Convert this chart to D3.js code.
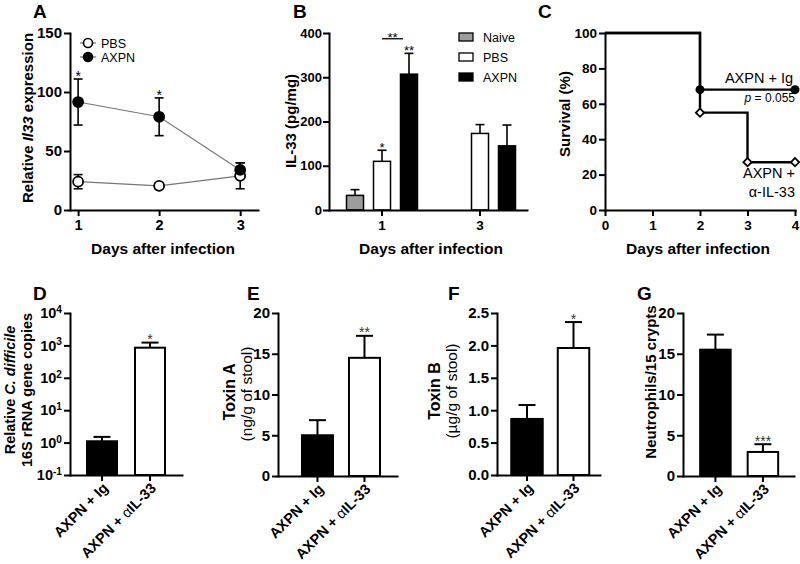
<!DOCTYPE html>
<html><head><meta charset="utf-8">
<script src="https://cdn.jsdelivr.net/npm/d3@7"></script>
<style>
body{margin:0;background:#fff;}
svg{display:block;}
</style></head><body>
<svg id="fig" width="800" height="564"></svg>
<script>
// ================= DATA =================
// Panel A – Relative Il33 expression
const daysA = [1, 2, 3];
const pbsA = [24, 20.5, 29];
const pbsAErr = [6, 2.5, 11];
const axpnA = [91.5, 79, 34];
const axpnAErr = [19.5, 16, 6];
const starsA = ["*", "*", ""];
const yTicksA = [0, 50, 100, 150];

// Panel B – IL-33 (pg/mg)
const daysB = ["1", "3"];
const groupsB = ["Naive", "PBS", "AXPN"];
const naiveB = [33, null];
const naiveBErr = [13, null];
const pbsB = [110, 173];
const pbsBErr = [25, 20];
const axpnB = [307, 145];
const axpnBErr = [47, 47];
const yTicksB = [0, 100, 200, 300, 400];

// Panel C – survival
const daysIg = [0, 2, 4];
const survIg = [100, 68, 68];
const daysAnti = [0, 2, 3, 4];
const survAnti = [100, 55, 27, 27];
const xTicksC = [0, 1, 2, 3, 4];
const yTicksC = [0, 20, 40, 60, 80, 100];

// Panels D-G – two treatment groups
const groupsDG = ["AXPN + Ig", "AXPN + αIL-33"];
const valD = [1.1, 850];
const errD = [0.4, 370];
const starD = ["", "*"];
const yTicksD = [-1, 0, 1, 2, 3, 4]; // exponents of 10
const valE = [5.0, 14.5];
const errE = [1.85, 2.7];
const starE = ["", "**"];
const yTicksE = [0, 5, 10, 15, 20];
const valF = [0.865, 1.96];
const errF = [0.215, 0.40];
const starF = ["", "*"];
const yTicksF = [0, 0.5, 1.0, 1.5, 2.0, 2.5];
const valG = [15.5, 2.95];
const errG = [1.85, 0.95];
const starG = ["", "***"];
const yTicksG = [0, 5, 10, 15, 20];

// ================= DRAWING =================
const FF = '"Liberation Sans", Arial, Helvetica, sans-serif';
const svg = d3.select("#fig").attr("font-family", FF);

function styleAxis(g, fs) {
  g.attr("font-family", FF).attr("font-size", fs);
  g.select(".domain").attr("stroke", "#000").attr("stroke-width", 2).attr("stroke-linecap", "square");
  g.selectAll(".tick line").attr("stroke", "#000").attr("stroke-width", 2);
  g.selectAll(".tick text").attr("fill", "#000").attr("font-weight", "bold");
}
function panelLetter(t, x, y) {
  svg.append("text").attr("x", x).attr("y", y).attr("font-size", 19).attr("font-weight", "bold").text(t);
}
function vLabel(x, y, fs, parts, weight) {
  const t = svg.append("text").attr("transform", `translate(${x},${y}) rotate(-90)`)
    .attr("text-anchor", "middle").attr("font-size", fs).attr("font-weight", weight || "bold");
  parts.forEach(p => {
    const s = t.append("tspan").text(p.t);
    if (p.i) s.attr("font-style", "italic");
    if (p.w) s.attr("font-weight", p.w);
  });
  return t;
}
function hLabel(x, y, txt) {
  svg.append("text").attr("x", x).attr("y", y).attr("text-anchor", "middle")
    .attr("font-size", 15.5).attr("font-weight", "bold").text(txt);
}

// ---------- Panel A ----------
{
  const g = svg.append("g");
  const x = d3.scaleLinear().domain([0.9, 3.22]).range([70, 258]);
  const y = d3.scaleLinear().domain([0, 150]).range([210, 33]);
  const ax = g.append("g").attr("transform", "translate(0,210)")
    .call(d3.axisBottom(x).tickValues(daysA).tickSize(6).tickSizeOuter(0).tickPadding(4).tickFormat(d3.format("d")));
  styleAxis(ax, 14.5);
  const ay = g.append("g").attr("transform", "translate(70,0)")
    .call(d3.axisLeft(y).tickValues(yTicksA).tickSize(6).tickSizeOuter(0).tickPadding(2));
  styleAxis(ay, 15);

  const series = [
    { v: pbsA, e: pbsAErr, fill: "#fff" },
    { v: axpnA, e: axpnAErr, fill: "#000" }
  ];
  const line = d3.line().x((d, i) => x(daysA[i])).y(d => y(d));
  series.forEach(s => {
    g.append("path").attr("d", line(s.v)).attr("fill", "none").attr("stroke", "#777").attr("stroke-width", 1.2);
  });
  series.forEach(s => {
    s.v.forEach((v, i) => {
      const cx = x(daysA[i]);
      g.append("line").attr("x1", cx).attr("x2", cx).attr("y1", y(v - s.e[i])).attr("y2", y(v + s.e[i]))
        .attr("stroke", "#000").attr("stroke-width", 1.6);
      [v - s.e[i], v + s.e[i]].forEach(ev => {
        g.append("line").attr("x1", cx - 4.5).attr("x2", cx + 4.5).attr("y1", y(ev)).attr("y2", y(ev))
          .attr("stroke", "#000").attr("stroke-width", 1.6);
      });
    });
  });
  series.forEach(s => {
    s.v.forEach((v, i) => {
      g.append("circle").attr("cx", x(daysA[i])).attr("cy", y(v)).attr("r", 5)
        .attr("fill", s.fill).attr("stroke", "#000").attr("stroke-width", 1.8);
    });
  });
  starsA.forEach((st, i) => {
    if (!st) return;
    g.append("text").attr("x", x(daysA[i])).attr("y", y(axpnA[i] + axpnAErr[i]) + 2)
      .attr("text-anchor", "middle").attr("font-size", 14).text(st);
  });
  // legend
  [{ t: "PBS", f: "#fff", yy: 43 }, { t: "AXPN", f: "#000", yy: 57 }].forEach(l => {
    g.append("line").attr("x1", 80).attr("x2", 96).attr("y1", l.yy).attr("y2", l.yy).attr("stroke", "#555").attr("stroke-width", 1);
    g.append("circle").attr("cx", 88).attr("cy", l.yy).attr("r", 4.5).attr("fill", l.f).attr("stroke", "#000").attr("stroke-width", 1.6);
    g.append("text").attr("x", 101).attr("y", l.yy + 4.5).attr("font-size", 12.5).text(l.t);
  });
  panelLetter("A", 33, 18);
  vLabel(33, 118, 15, [{ t: "Relative " }, { t: "Il33", i: true }, { t: " expression" }]);
  hLabel(163, 254, "Days after infection");
}

// ---------- Panel B ----------
{
  const g = svg.append("g");
  const x0 = d3.scaleBand().domain(daysB).range([329, 527]).paddingInner(0.1735).paddingOuter(0.097).align(0.658);
  const x1 = d3.scaleBand().domain(groupsB).range([0, x0.bandwidth()]).paddingInner(0.37).paddingOuter(0.185);
  const y = d3.scaleLinear().domain([0, 400]).range([210, 33]);
  const fills = { Naive: "#9d9d9d", PBS: "#fff", AXPN: "#000" };
  const vals = { Naive: naiveB, PBS: pbsB, AXPN: axpnB };
  const errs = { Naive: naiveBErr, PBS: pbsBErr, AXPN: axpnBErr };
  daysB.forEach((d, di) => {
    groupsB.forEach(gr => {
      const v = vals[gr][di];
      if (v == null) return;
      const bx = x0(d) + x1(gr), bw = x1.bandwidth(), cx = bx + bw / 2;
      const top = y(v + errs[gr][di]);
      g.append("line").attr("x1", cx).attr("x2", cx).attr("y1", y(v)).attr("y2", top).attr("stroke", "#000").attr("stroke-width", 1.6);
      g.append("line").attr("x1", cx - 4.5).attr("x2", cx + 4.5).attr("y1", top).attr("y2", top).attr("stroke", "#000").attr("stroke-width", 1.6);
      g.append("rect").attr("x", bx).attr("y", y(v)).attr("width", bw).attr("height", y(0) - y(v))
        .attr("fill", fills[gr]).attr("stroke", "#000").attr("stroke-width", 1.5);
    });
  });
  const ax = g.append("g").attr("transform", "translate(0,210)")
    .call(d3.axisBottom(x0).tickSize(6).tickSizeOuter(0).tickPadding(4));
  styleAxis(ax, 13.5);
  const ay = g.append("g").attr("transform", "translate(329,0)")
    .call(d3.axisLeft(y).tickValues(yTicksB).tickSize(6).tickSizeOuter(0).tickPadding(1));
  styleAxis(ay, 13);
  const cxOf = (d, gr) => x0(d) + x1(gr) + x1.bandwidth() / 2;
  // significance
  g.append("text").attr("x", cxOf("1", "PBS")).attr("y", y(pbsB[0] + pbsBErr[0]) + 1.5)
    .attr("text-anchor", "middle").attr("font-size", 13).text("*");
  g.append("text").attr("x", cxOf("1", "AXPN")).attr("y", y(axpnB[0] + axpnBErr[0]) + 1.5)
    .attr("text-anchor", "middle").attr("font-size", 13).text("**");
  const by = y(387);
  g.append("line").attr("x1", cxOf("1", "PBS")).attr("x2", cxOf("1", "AXPN") - 6).attr("y1", by).attr("y2", by)
    .attr("stroke", "#000").attr("stroke-width", 1.3);
  g.append("text").attr("x", (cxOf("1", "PBS") + cxOf("1", "AXPN") - 6) / 2).attr("y", by + 3)
    .attr("text-anchor", "middle").attr("font-size", 13).text("**");
  // legend
  groupsB.forEach((gr, i) => {
    const yy = 37 + i * 20;
    g.append("rect").attr("x", 459).attr("y", yy - 4).attr("width", 14).attr("height", 8)
      .attr("fill", fills[gr]).attr("stroke", "#000").attr("stroke-width", 1.3);
    g.append("text").attr("x", 483).attr("y", yy + 4.5).attr("font-size", 12.5).text(gr);
  });
  panelLetter("B", 293, 18);
  vLabel(296, 121, 15, [{ t: "IL-33 (pg/mg)" }]);
  hLabel(431, 254, "Days after infection");
}

// ---------- Panel C ----------
{
  const g = svg.append("g");
  const x = d3.scaleLinear().domain([0, 4]).range([605, 795]);
  const y = d3.scaleLinear().domain([0, 100]).range([210, 33]);
  const ax = g.append("g").attr("transform", "translate(0,210)")
    .call(d3.axisBottom(x).tickValues(xTicksC).tickSize(6).tickSizeOuter(0).tickPadding(4).tickFormat(d3.format("d")));
  styleAxis(ax, 13.5);
  const ay = g.append("g").attr("transform", "translate(605,0)")
    .call(d3.axisLeft(y).tickValues(yTicksC).tickSize(6).tickSizeOuter(0).tickPadding(2));
  styleAxis(ay, 13.5);
  const line = d3.line().curve(d3.curveStepAfter).x(d => x(d[0])).y(d => y(d[1]));
  const ig = daysIg.map((d, i) => [d, survIg[i]]);
  const anti = daysAnti.map((d, i) => [d, survAnti[i]]);
  g.append("path").attr("d", line(anti)).attr("fill", "none").attr("stroke", "#000").attr("stroke-width", 2.4);
  g.append("path").attr("d", line(ig)).attr("fill", "none").attr("stroke", "#000").attr("stroke-width", 2.4);
  ig.slice(1).forEach(p => {
    g.append("circle").attr("cx", x(p[0])).attr("cy", y(p[1])).attr("r", 4.5).attr("fill", "#000");
  });
  anti.slice(1).forEach(p => {
    g.append("path").attr("d", d3.symbol(d3.symbolSquare, 34)())
      .attr("transform", `translate(${x(p[0])},${y(p[1])}) rotate(45)`)
      .attr("fill", "#fff").attr("stroke", "#000").attr("stroke-width", 1.8);
  });
  g.append("text").attr("x", 793).attr("y", 83).attr("text-anchor", "end").attr("font-size", 14.5).text("AXPN + Ig");
  const pt = g.append("text").attr("x", 795).attr("y", 102).attr("text-anchor", "end").attr("font-size", 12);
  pt.append("tspan").attr("font-style", "italic").text("p");
  pt.append("tspan").text(" = 0.055");
  g.append("text").attr("x", 795).attr("y", 178).attr("text-anchor", "end").attr("font-size", 14.5).text("AXPN +");
  g.append("text").attr("x", 795).attr("y", 197).attr("text-anchor", "end").attr("font-size", 14.5).text("α-IL-33");
  panelLetter("C", 538, 18);
  vLabel(570, 114, 15, [{ t: "Survival (%)" }]);
  hLabel(698, 254, "Days after infection");
}

// ---------- Panels D-G ----------
function barPanel(opt) {
  const g = svg.append("g");
  const x = d3.scaleBand().domain(groupsDG).range([opt.x0, opt.x1])
    .paddingInner(opt.pi).paddingOuter(opt.po).align(opt.al);
  const y = opt.y;
  const base = opt.base;
  const fills = ["#000", "#fff"];
  groupsDG.forEach((gr, i) => {
    const v = opt.vals[i], e = opt.errs[i];
    const bx = x(gr), bw = x.bandwidth(), cx = bx + bw / 2;
    const top = y(v + e);
    g.append("line").attr("x1", cx).attr("x2", cx).attr("y1", y(v)).attr("y2", top).attr("stroke", "#000").attr("stroke-width", 2);
    g.append("line").attr("x1", cx - 8.5).attr("x2", cx + 8.5).attr("y1", top).attr("y2", top).attr("stroke", "#000").attr("stroke-width", 2);
    g.append("rect").attr("x", bx).attr("y", y(v)).attr("width", bw).attr("height", y(base) - y(v))
      .attr("fill", fills[i]).attr("stroke", "#000").attr("stroke-width", 2);
    if (opt.stars[i]) {
      g.append("text").attr("x", cx).attr("y", top + 1.5).attr("text-anchor", "middle")
        .attr("font-size", 14).attr("fill", "#333").text(opt.stars[i]);
    }
  });
  const yb = y(base);
  const ax = g.append("g").attr("transform", `translate(0,${yb})`)
    .call(d3.axisBottom(x).tickSize(6).tickSizeOuter(0).tickFormat(() => ""));
  styleAxis(ax, 14);
  ax.selectAll(".tick text").remove();
  ax.selectAll(".tick").each(function (d) {
    const t = d3.select(this).append("text")
      .attr("transform", "translate(7,14) rotate(-45)")
      .attr("text-anchor", "end").attr("fill", "#000").attr("font-weight", "bold").attr("font-size", 14.5);
    const k = d.indexOf("α");
    if (k < 0) t.append("tspan").text(d);
    else {
      t.append("tspan").text(d.slice(0, k));
      t.append("tspan").attr("font-weight", "normal").text("α");
      t.append("tspan").text(d.slice(k + 1));
    }
  });
  const axisL = d3.axisLeft(y).tickValues(opt.yTicks).tickSize(6).tickSizeOuter(0).tickPadding(2);
  if (opt.fmt) axisL.tickFormat(opt.fmt);
  const ay = g.append("g").attr("transform", `translate(${opt.x0},0)`).call(axisL);
  styleAxis(ay, opt.tfs);
  if (opt.post) opt.post(ay);
  return g;
}

// D
{
  const y = d3.scaleLog().domain([0.1, 10000]).range([475, 313]);
  barPanel({
    x0: 70, x1: 182, pi: 0.375, po: 0.354, al: 0.5, y, base: 0.1,
    vals: valD, errs: errD, stars: starD, yTicks: yTicksD.map(e => Math.pow(10, e)), tfs: 14.5,
    fmt: () => "",
    post: ay => {
      ay.selectAll(".tick text").each(function (d, i) {
        const t = d3.select(this);
        t.text(null);
        t.append("tspan").text("10");
        t.append("tspan").attr("dy", "-0.5em").attr("font-size", "70%").text(String(yTicksD[i]));
      });
    }
  });
  panelLetter("D", 33, 300);
  vLabel(15, 390, 14.5, [{ t: "Relative " }, { t: "C. difficile", i: true }]);
  vLabel(32, 390, 14.5, [{ t: "16S rRNA gene copies" }]);
}
// E
{
  const y = d3.scaleLinear().domain([0, 20]).range([476, 313]);
  barPanel({ x0: 278, x1: 397, pi: 0.34, po: 0.436, al: 0.585, y, base: 0,
    vals: valE, errs: errE, stars: starE, yTicks: yTicksE, tfs: 15 });
  panelLetter("E", 247, 300);
  vLabel(235, 392, 16, [{ t: "Toxin A" }]);
  vLabel(252, 394, 15.5, [{ t: "(ng/g of stool)" }], "normal");
}
// F
{
  const y = d3.scaleLinear().domain([0, 2.5]).range([475, 313]);
  barPanel({ x0: 497, x1: 600, pi: 0.323, po: 0.269, al: 0.57, y, base: 0,
    vals: valF, errs: errF, stars: starF, yTicks: yTicksF, tfs: 15, fmt: d3.format(".1f") });
  panelLetter("F", 448, 300);
  vLabel(440, 391, 16, [{ t: "Toxin B" }]);
  vLabel(457, 391, 15.5, [{ t: "(µg/g of stool)" }], "normal");
}
// G
{
  const y = d3.scaleLinear().domain([0, 20]).range([476, 313]);
  barPanel({ x0: 683, x1: 794, pi: 0.358, po: 0.347, al: 0.52, y, base: 0,
    vals: valG, errs: errG, stars: starG, yTicks: yTicksG, tfs: 15 });
  panelLetter("G", 637, 300);
  vLabel(656, 382, 15, [{ t: "Neutrophils/15 crypts" }]);
}
</script>
</body></html>
